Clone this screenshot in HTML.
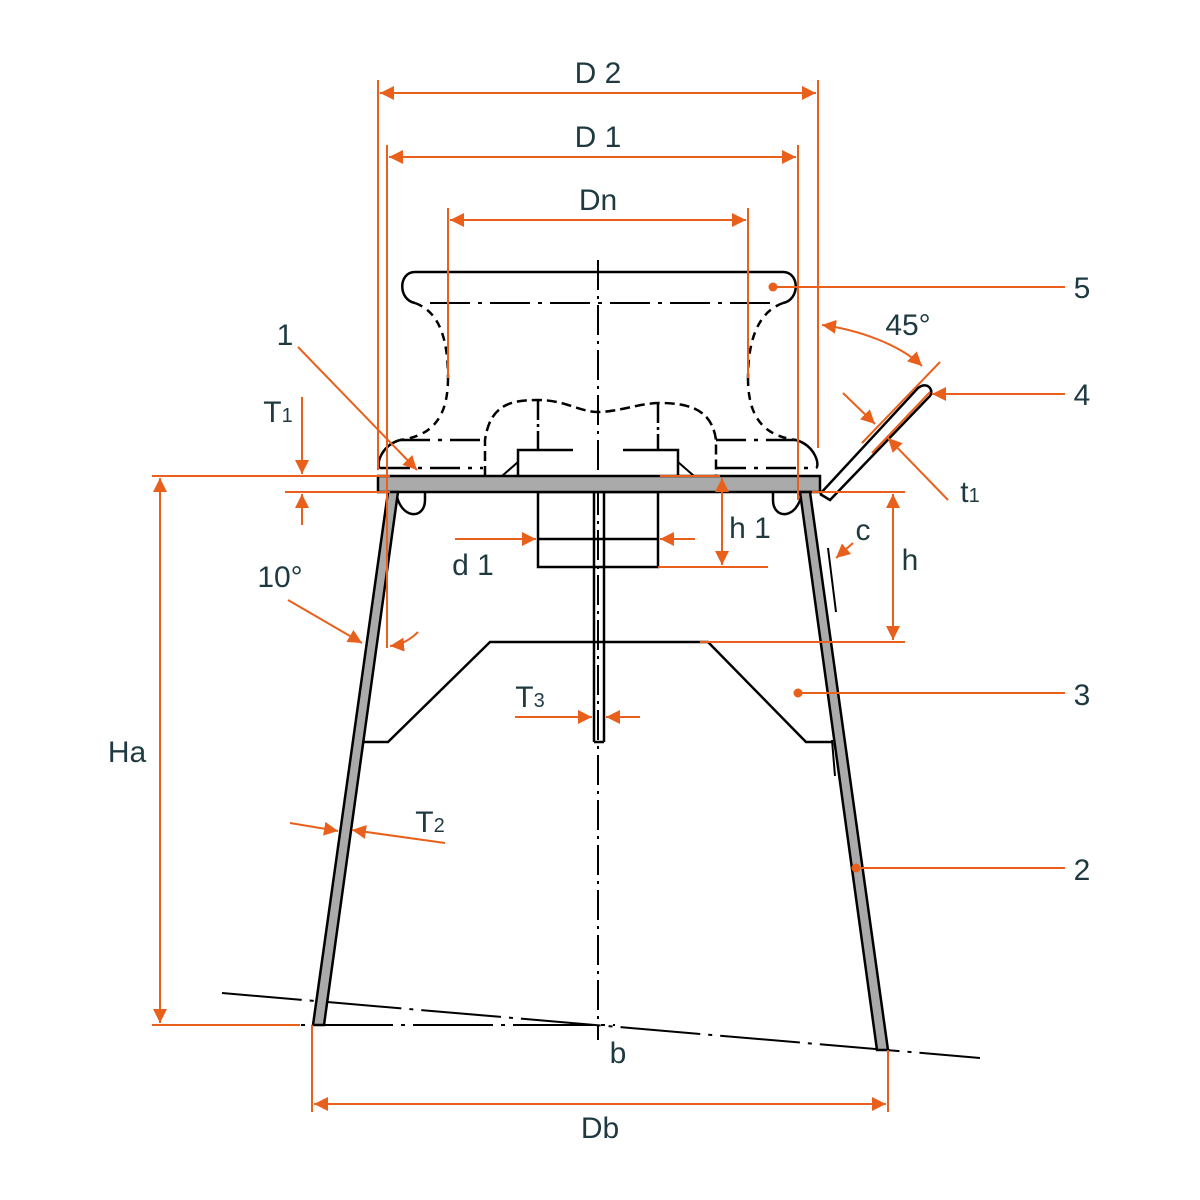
<!DOCTYPE html>
<html><head><style>
html,body{margin:0;padding:0;background:#fff}
svg{display:block}
text{font-family:"Liberation Sans",sans-serif;fill:#1e3a40}
</style></head><body>
<svg width="1200" height="1200" viewBox="0 0 1200 1200" xmlns="http://www.w3.org/2000/svg">
<defs>
<marker id="a" viewBox="0 0 10 10" refX="10" refY="5" markerWidth="7" markerHeight="7" orient="auto-start-reverse"><path d="M0,0 L10,5 L0,10 Z" fill="#e8601c"/></marker>
</defs>
<g fill="none" stroke="#000" stroke-width="2.5">
<!-- centerline -->
<line x1="598" y1="260" x2="598" y2="1040" stroke-width="2" stroke-dasharray="30,6,3,6"/>
<!-- ground lines -->
<line x1="222" y1="993" x2="980" y2="1058" stroke-width="2" stroke-dasharray="80,8,4,8"/>
<line x1="213" y1="1025" x2="615" y2="1025" stroke-width="2" stroke-dasharray="80,8,4,8"/>
<!-- bollard top flange -->
<path d="M415,303 C398,300 398,272 415,272 L783,272 C800,272 800,300 783,303"/>
<line x1="430" y1="303" x2="770" y2="303" stroke-width="2" stroke-dasharray="40,8,4,8"/>
<path d="M415,303 C440,312 448,340 448,378" stroke-dasharray="8,6"/>
<path d="M783,303 C758,312 748,340 748,378" stroke-dasharray="8,6"/>
<path d="M448,378 C448,420 430,436 400,440" stroke-dasharray="8,6"/>
<path d="M748,378 C748,420 766,436 796,440" stroke-dasharray="8,6"/>
<path d="M400,440 C380,446 376,466 380,468"/>
<path d="M796,440 C816,446 820,466 816,468"/>
<line x1="400" y1="440" x2="483" y2="440" stroke-dasharray="30,8,4,8"/>
<line x1="716" y1="440" x2="796" y2="440" stroke-dasharray="30,8,4,8"/>
<line x1="380" y1="468" x2="483" y2="468" stroke-dasharray="30,8,4,8"/>
<line x1="716" y1="468" x2="816" y2="468" stroke-dasharray="30,8,4,8"/>
<!-- nut head -->
<path d="M485,476 L485,440 C490,405 510,400 538,400 C565,400 580,412 598,412 C618,412 640,403 660,403 C690,403 712,410 716,440 L716,476" stroke-dasharray="10,5"/>
<line x1="538" y1="400" x2="538" y2="450" stroke-dasharray="20,4,3,4"/>
<line x1="658" y1="403" x2="658" y2="450" stroke-dasharray="20,4,3,4"/>
<path d="M518,476 L518,450 L573,450"/>
<path d="M678,476 L678,450 L623,450"/>
<path d="M502,476 L518,462 M694,476 L678,462" stroke-width="2"/>
<!-- bolt -->
<rect x="538" y="492" width="120" height="75"/>
<line x1="538" y1="539" x2="658" y2="539"/>
<line x1="594" y1="492" x2="594" y2="742"/>
<line x1="604" y1="492" x2="604" y2="742"/>
<line x1="594" y1="742" x2="604" y2="742"/>
<!-- plate -->
<rect x="378" y="476" width="442" height="16" fill="#aaa"/>
<!-- gussets -->
<path d="M396,492 C400,520 425,520 425,500 L425,492"/>
<path d="M802,492 C798,520 773,520 773,500 L773,492"/>
<!-- cone -->
<polygon points="388,492 398,492 324,1025 313,1025" fill="#aaa"/>
<polygon points="800,492 810,492 888,1050 877,1050" fill="#aaa"/>
<!-- frame 3 -->
<path d="M364,742 L388,742 L490,642 L708,642 L806,742 L832,742"/>
<line x1="828" y1="548" x2="836" y2="612" stroke-width="2"/>
<line x1="832" y1="740" x2="835" y2="776" stroke-width="2"/>
<!-- handle 4 -->
<path d="M820,494 L918,388 C928,380 936,392 928,398 L830,500 L820,494" />
</g>
<g stroke="#e8601c" stroke-width="2" fill="none">
<!-- D2 -->
<line x1="378" y1="80" x2="378" y2="470"/>
<line x1="818" y1="80" x2="818" y2="448"/>
<line x1="380" y1="93" x2="816" y2="93" marker-start="url(#a)" marker-end="url(#a)"/>
<!-- D1 -->
<line x1="387" y1="145" x2="387" y2="648"/>
<line x1="798" y1="145" x2="798" y2="500"/>
<line x1="389" y1="157" x2="796" y2="157" marker-start="url(#a)" marker-end="url(#a)"/>
<!-- Dn -->
<line x1="448" y1="208" x2="448" y2="378"/>
<line x1="748" y1="208" x2="748" y2="378"/>
<line x1="450" y1="220" x2="746" y2="220" marker-start="url(#a)" marker-end="url(#a)"/>
<!-- leaders -->
<line x1="773" y1="287" x2="1065" y2="287"/>
<line x1="932" y1="394" x2="1065" y2="394" marker-start="url(#a)"/>
<line x1="798" y1="693" x2="1065" y2="693"/>
<line x1="856" y1="868" x2="1065" y2="868"/>
<line x1="298" y1="347" x2="417" y2="470" marker-end="url(#a)"/>
<!-- 45 -->
<path d="M822,325 C860,330 900,345 922,366" marker-start="url(#a)" marker-end="url(#a)"/>
<line x1="862" y1="443" x2="940" y2="362"/>
<line x1="872" y1="453" x2="930" y2="392"/>
<!-- t1 -->
<line x1="843" y1="393" x2="875" y2="424" marker-end="url(#a)"/>
<line x1="948" y1="500" x2="888" y2="438" marker-end="url(#a)"/>
<!-- T1 -->
<line x1="302" y1="397" x2="302" y2="474" marker-end="url(#a)"/>
<line x1="302" y1="525" x2="302" y2="494" marker-end="url(#a)"/>
<line x1="152" y1="476" x2="390" y2="476"/>
<line x1="285" y1="492" x2="390" y2="492"/>
<!-- Ha -->
<line x1="160" y1="478" x2="160" y2="1023" marker-start="url(#a)" marker-end="url(#a)"/>
<line x1="152" y1="1025" x2="300" y2="1025"/>
<!-- h1 -->
<line x1="722" y1="478" x2="722" y2="565" marker-start="url(#a)" marker-end="url(#a)"/>
<line x1="658" y1="567" x2="768" y2="567"/>
<line x1="660" y1="476" x2="720" y2="476"/>
<!-- h -->
<line x1="893" y1="494" x2="893" y2="640" marker-start="url(#a)" marker-end="url(#a)"/>
<line x1="812" y1="492" x2="905" y2="492"/>
<line x1="700" y1="642" x2="905" y2="642"/>
<!-- c -->
<line x1="853" y1="543" x2="836" y2="558" marker-end="url(#a)"/>
<!-- d1 -->
<line x1="455" y1="539" x2="536" y2="539" marker-end="url(#a)"/>
<line x1="695" y1="539" x2="660" y2="539" marker-end="url(#a)"/>
<!-- T3 -->
<line x1="515" y1="717" x2="592" y2="717" marker-end="url(#a)"/>
<line x1="640" y1="717" x2="606" y2="717" marker-end="url(#a)"/>
<!-- T2 -->
<line x1="290" y1="823" x2="338" y2="831" marker-end="url(#a)"/>
<line x1="445" y1="843" x2="352" y2="830" marker-end="url(#a)"/>
<!-- 10 -->
<line x1="288" y1="600" x2="362" y2="643" marker-end="url(#a)"/>
<path d="M390,646 C400,645 410,640 418,632" marker-start="url(#a)"/>
<!-- Db -->
<line x1="312" y1="1025" x2="312" y2="1112"/>
<line x1="888" y1="1050" x2="888" y2="1112"/>
<line x1="314" y1="1104" x2="886" y2="1104" marker-start="url(#a)" marker-end="url(#a)"/>
</g>
<g fill="#e8601c">
<circle cx="773" cy="287" r="4.5"/><circle cx="798" cy="693" r="4.5"/><circle cx="856" cy="868" r="4.5"/>
</g>
<g font-size="30" text-anchor="middle">
<text x="598" y="83">D 2</text>
<text x="598" y="147">D 1</text>
<text x="598" y="210">Dn</text>
<text x="1082" y="298">5</text>
<text x="1082" y="405">4</text>
<text x="1082" y="705">3</text>
<text x="1082" y="880">2</text>
<text x="285" y="345">1</text>
<text x="908" y="335">45°</text>
<text x="970" y="502">t<tspan font-size="20">1</tspan></text>
<text x="278" y="422">T<tspan font-size="20">1</tspan></text>
<text x="127" y="762">Ha</text>
<text x="750" y="538">h 1</text>
<text x="910" y="570">h</text>
<text x="863" y="540">c</text>
<text x="473" y="575">d 1</text>
<text x="530" y="707">T<tspan font-size="20">3</tspan></text>
<text x="430" y="832">T<tspan font-size="20">2</tspan></text>
<text x="280" y="587">10°</text>
<text x="618" y="1063">b</text>
<text x="600" y="1138">Db</text>
</g>
</svg>
</body></html>
